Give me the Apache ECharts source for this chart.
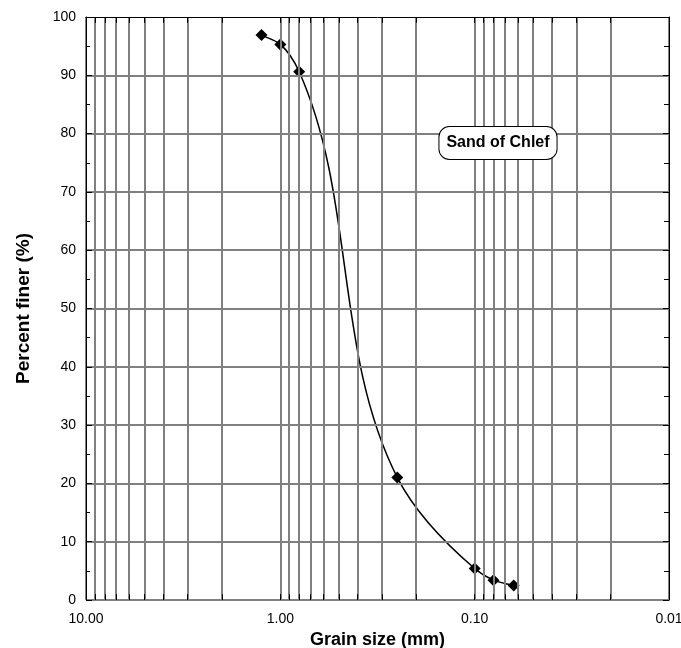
<!DOCTYPE html>
<html>
<head>
<meta charset="utf-8">
<script src="https://cdn.jsdelivr.net/npm/echarts@6/dist/echarts.min.js"></script>
<style>
    html, body { margin: 0; padding: 0; background: #fff; }
    #chart { width: 681px; height: 648px; }
</style>
</head>
<body>
<div id="chart"></div>
<script>
    // sieve analysis, sand of Chlef
    const sieveSizes = [1.25, 1.0, 0.8, 0.25, 0.1, 0.08, 0.063];
    const percentFiner = [96.9, 95.3, 90.6, 21.0, 5.4, 3.4, 2.5];

    // log grid: decades and the 2..9 steps inside each
    const decades = [0.01, 0.1, 1, 10];
    const decadeSteps = [2, 3, 4, 5, 6, 7, 8, 9];
    const yGridValues = [0, 10, 20, 30, 40, 50, 60, 70, 80, 90];

    const gridX = decades.slice();
    decades.slice(0, 3).forEach(d => decadeSteps.forEach(s => gridX.push(+(d * s).toFixed(4))));

    const fontFamily = '"Liberation Sans", Arial, sans-serif';
    const chart = echarts.init(document.getElementById('chart'));

    const gridLines = gridX.map(v => ({xAxis: v})).concat(yGridValues.map(v => ({yAxis: v})));
    const edgeTicks = [];
    gridX.forEach(v => {
        edgeTicks.push([{coord: [v, 0]}, {coord: [v, 1]}]);
        edgeTicks.push([{coord: [v, 99]}, {coord: [v, 100]}]);
    });

    function unit(a, b) {
        const dx = b[0] - a[0], dy = b[1] - a[1];
        const len = Math.hypot(dx, dy) || 1;
        return [dx / len, dy / len];
    }

    // tangent at point i = mean of the unit directions of both neighbouring segments (pixel space)
    function tangentAt(pts, i) {
        const n = pts.length;
        if (i === 0) return unit(pts[0], pts[1]);
        if (i === n - 1) return unit(pts[n - 2], pts[n - 1]);
        const a = unit(pts[i - 1], pts[i]), b = unit(pts[i], pts[i + 1]);
        return unit([0, 0], [a[0] + b[0], a[1] + b[1]]);
    }

    function renderSegment(params, api) {
        const i = params.dataIndex;
        if (i >= sieveSizes.length - 1) return null;
        const pts = sieveSizes.map((s, k) => api.coord([s, percentFiner[k]]));
        const p0 = pts[i], p1 = pts[i + 1];
        const arm = Math.hypot(p1[0] - p0[0], p1[1] - p0[1]) / 3;
        const t0 = tangentAt(pts, i), t1 = tangentAt(pts, i + 1);
        return {
            type: 'bezierCurve',
            shape: {
                x1: p0[0], y1: p0[1], x2: p1[0], y2: p1[1],
                cpx1: p0[0] + t0[0] * arm, cpy1: p0[1] + t0[1] * arm,
                cpx2: p1[0] - t1[0] * arm, cpy2: p1[1] - t1[1] * arm
            },
            style: {stroke: '#000', lineWidth: 1.5, fill: 'none'}
        };
    }

    const logAxis = {
        type: 'log',
        logBase: 10,
        min: 0.01,
        max: 10,
        inverse: true,
        z: 5,
        splitLine: {show: false},
        axisTick: {show: false}
    };
    const valueAxis = {
        type: 'value',
        min: 0,
        max: 100,
        interval: 10,
        z: 5,
        splitLine: {show: false},
        axisLine: {show: true, lineStyle: {color: '#000', width: 1}},
        axisTick: {show: true, inside: true, length: 6, lineStyle: {color: '#000'}},
        minorTick: {show: true, splitNumber: 2, length: 4, lineStyle: {color: '#000'}}
    };

    const pointData = sieveSizes.map((s, i) => [s, percentFiner[i]]);

    const option = {
        backgroundColor: '#fff',
        animation: false,
        grid: {left: 86, right: 12, top: 17, bottom: 48, containLabel: false, outerBoundsMode: 'none'},
        xAxis: [
            Object.assign({}, logAxis, {
                position: 'bottom',
                axisLine: {show: false},
                axisLabel: {
                    color: '#000', fontSize: 14, fontFamily: fontFamily, margin: 12,
                    formatter: v => Number(v).toFixed(2)
                },
                name: 'Grain size (mm)',
                nameLocation: 'middle',
                nameGap: 29,
                nameTextStyle: {color: '#000', fontSize: 18, fontWeight: 'bold', fontFamily: fontFamily}
            }),
            Object.assign({}, logAxis, {
                position: 'top',
                axisLine: {show: true, onZero: false, lineStyle: {color: '#000', width: 1}},
                axisLabel: {show: false}
            })
        ],
        yAxis: [
            Object.assign({}, valueAxis, {
                position: 'left',
                axisLabel: {color: '#000', fontSize: 14, fontFamily: fontFamily, margin: 10},
                name: 'Percent finer (%)',
                nameLocation: 'middle',
                nameGap: 53,
                nameTextStyle: {color: '#000', fontSize: 19, fontWeight: 'bold', fontFamily: fontFamily}
            }),
            Object.assign({}, valueAxis, {
                position: 'right',
                axisLabel: {show: false},
                minorTick: {show: true, splitNumber: 2, length: 5, lineStyle: {color: '#000'}}
            })
        ],
        graphic: [{
            type: 'text',
            z: 10,
            style: {
                x: 498, y: 143,
                text: 'Sand of Chlef',
                align: 'center',
                verticalAlign: 'middle',
                fill: '#000',
                font: 'bold 16px ' + fontFamily,
                backgroundColor: '#fff',
                borderColor: '#000',
                borderWidth: 1,
                borderRadius: 10,
                padding: [8, 7, 8, 7]
            }
        }],
        series: [
            {
                name: 'grid',
                type: 'line',
                data: [],
                z: 1,
                silent: true,
                markLine: {
                    silent: true,
                    symbol: 'none',
                    animation: false,
                    label: {show: false},
                    lineStyle: {color: '#808080', width: 2, type: 'solid'},
                    data: gridLines
                }
            },
            {
                name: 'ticks',
                type: 'line',
                data: [],
                z: 2,
                silent: true,
                markLine: {
                    silent: true,
                    symbol: 'none',
                    animation: false,
                    label: {show: false},
                    lineStyle: {color: '#000', width: 1, type: 'solid'},
                    data: edgeTicks
                }
            },
            {
                name: 'curve',
                type: 'custom',
                z: 3,
                silent: true,
                renderItem: renderSegment,
                encode: {x: 0, y: 1},
                data: pointData
            },
            {
                name: 'Sand of Chlef',
                type: 'scatter',
                z: 4,
                data: pointData,
                symbol: 'diamond',
                symbolSize: 12,
                itemStyle: {color: '#000', opacity: 1}
            }
        ]
    };
    chart.setOption(option);
</script>
</body>
</html>
